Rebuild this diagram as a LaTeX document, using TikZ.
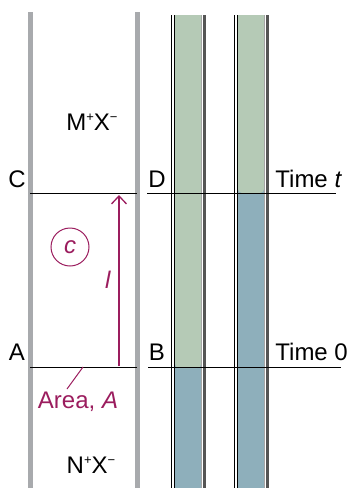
\documentclass[tikz,border=0pt]{standalone}
\usepackage{fontspec}
\setmainfont{Liberation Sans}
\usepackage{xcolor}
\definecolor{cPlum}{HTML}{9B1D5E}
\definecolor{cWall}{HTML}{A8AAAD}
\definecolor{cGreen}{HTML}{B5CAB6}
\definecolor{cBlue}{HTML}{8EAFBB}
\definecolor{cRim}{HTML}{555555}
\usepackage{tikz}
\usetikzlibrary{arrows.meta}
\newcommand{\ionsup}[1]{\raisebox{0.75ex}{\fontsize{6.5}{7}\selectfont #1}}
\tikzset{
  wall-bar/.style={fill=cWall,draw=none},
  tube-rim/.style={draw=black,line width=0.45pt},
  tube-rim-light/.style={draw=black!35,line width=0.5pt},
  tube-rim-dark/.style={draw=cRim,line width=1.2pt},
  level-line/.style={draw=black,line width=0.5pt},
  arrow-flux/.style={-{Straight Barb[length=4pt,width=7.5pt]},draw=cPlum,line width=0.65pt},
  label-text/.style={font=\fontsize{12}{14}\selectfont,inner sep=0pt},
  label-plum/.style={label-text,text=cPlum},
}

\begin{document}
\begin{tikzpicture}[x=0.5pt,y=-0.5pt]
  \useasboundingbox (0,0) rectangle (347,488);
  % cell walls
  \fill[wall-bar] (28,12) rectangle (33,488);
  \fill[wall-bar] (135,12) rectangle (140,488);
  % the two tubes, blue below the boundary, green above
  \foreach \x/\lev in {175/368,238/193} {
    \fill[cBlue] (\x,\lev-6) rectangle (\x+26,488);
    \fill[cGreen] (\x,15) [rounded corners=2pt] -- (\x,\lev) -- (\x+26,\lev)
      [sharp corners] -- (\x+26,15) -- cycle;
    \draw[tube-rim] (\x-3.5,15) -- (\x-3.5,488);
    \draw[tube-rim] (\x-0.5,15) -- (\x-0.5,488);
    \draw[tube-rim-light] (\x+26.5,15) -- (\x+26.5,488);
    \draw[tube-rim-dark] (\x+29.5,15) -- (\x+29.5,488);
  }
  % levels
  \coordinate (cd-l) at (30,193);  \coordinate (cd-m) at (137,193);
  \coordinate (cd-r) at (147,193); \coordinate (cd-e) at (336,193);
  \coordinate (ab-l) at (30,367);  \coordinate (ab-m) at (137,367);
  \coordinate (ab-r) at (148,367); \coordinate (ab-e) at (341,367);
  \draw[level-line] (cd-l) -- (cd-m);
  \draw[level-line] (cd-r) -- (cd-e);
  \draw[level-line] (ab-l) -- (ab-m);
  \draw[level-line] (ab-r) -- (ab-e);
  % labels
  \node[label-text] (lab-c) at (17,179) {C};
  \node[label-text] (lab-d) at (157,179) {D};
  \node[label-text] (lab-a) at (17,352) {A};
  \node[label-text] (lab-b) at (157,352) {B};
  \node[label-text,anchor=west] (time-t) at (275,179) {Time \textit{t}};
  \node[label-text,anchor=west] (time-0) at (275,352) {Time 0};
  \node[label-text] (salt-top) at (92,122) {M\ionsup{+}X\ionsup{−}};
  \node[label-text] (salt-bot) at (91,465) {N\ionsup{+}X\ionsup{−}};
  % flux, concentration, area
  \node[label-plum,draw=cPlum,circle,minimum size=19pt,line width=0.5pt] (conc) at (70,247) {\textit{c}};
  \coordinate (flux-start) at (119,366);
  \coordinate (flux-end) at (119,195);
  \draw[arrow-flux] (flux-start) -- (flux-end);
  \node[label-plum] (len) at (108,280) {\textit{l}};
  \node[label-plum] (area) at (78,402) {Area, \textit{A}};
  \coordinate (area-tip) at (67,389);
  \coordinate (area-foot) at (83,367);
  \draw[cPlum,line width=0.5pt] (area-tip) -- (area-foot);
\end{tikzpicture}
\end{document}
